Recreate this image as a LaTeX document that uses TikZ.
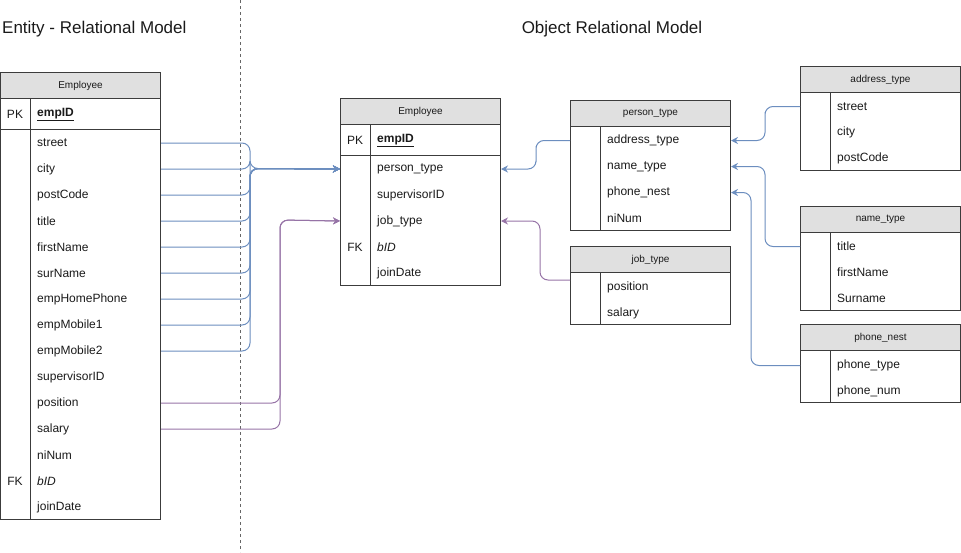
\documentclass[tikz,border=0pt]{standalone}
\usepackage{fontspec}
\setmainfont{Liberation Sans}
\usetikzlibrary{arrows.meta}
\usetikzlibrary{calc}
\usetikzlibrary{positioning}
\definecolor{linegray}{HTML}{3C3C3C}
\definecolor{headgray}{HTML}{E0E0E0}
\definecolor{linkblue}{HTML}{6C8EBF}
\definecolor{linkpurple}{HTML}{9673A6}
\definecolor{textdark}{HTML}{1A1A1A}
\tikzset{tblbox/.style = {draw = linegray, line width = 1pt, anchor = north west, inner sep = 0, minimum width = 160pt}}
\tikzset{tblhead/.style = {tblbox, fill = headgray, minimum height = 26pt, text = textdark, font = \fontsize{10}{12}\selectfont}}
\tikzset{fld/.style = {anchor = west, inner sep = 0, yshift = -1pt, text = textdark, font = \fontsize{12}{14}\selectfont}}
\tikzset{keyfld/.style = {fld, anchor = center}}
\tikzset{bluelink/.style = {draw = linkblue, line width = 1pt, rounded corners = 8pt, -{Stealth[length = 7pt, width = 7pt]}}}
\tikzset{purplelink/.style = {bluelink, draw = linkpurple}}

\begin{document}
\begin{tikzpicture}[x = 1pt, y = -1pt]
    \useasboundingbox (0, 0) rectangle (961, 552);
    % titles and divider
    \node [fld, font = \fontsize{17}{19}\selectfont] (ertitle) at (2, 28) {Entity - Relational Model};
    \node [keyfld, font = \fontsize{17}{19}\selectfont] (ortitle) at (612, 28) {Object Relational Model};
    \draw [dashed, draw = black!60, line width = 0.8pt] (240, 0) -- (240, 552);

    % entity-relational Employee
    \node [tblhead] (emp1-head) at (0, 72) {Employee};
    \node [tblbox, minimum height = 31pt] (emp1-pk) at (0, 98) {};
    \node [tblbox, minimum height = 390pt] (emp1) at (0, 129) {};
    \draw [draw = linegray, line width = 1pt] (30, 98) -- (30, 519);
    \node [keyfld] (emp1-pklbl) at (15, 113.5) {PK};
    \node [fld, font = \fontsize{12}{14}\selectfont\bfseries] (emp1-empID) at (37, 113.5) {\underline{empID}};
    \foreach \f/\t [count = \i from 0] in {street/street, city/city, postCode/postCode, title/title,
        firstName/firstName, surName/surName, empHomePhone/empHomePhone, empMobile1/empMobile1,
        empMobile2/empMobile2, supervisorID/supervisorID, position/position, salary/salary,
        niNum/niNum, bID/\textit{bID}, joinDate/joinDate}
      \node [fld] (emp1-\f) at (37, {142 + 26*\i}) {\t};
    \node [keyfld] (emp1-fklbl) at (15, 480) {FK};

    % object-relational Employee
    \node [tblhead] (emp2-head) at (340, 98) {Employee};
    \node [tblbox, minimum height = 31pt] (emp2-pk) at (340, 124) {};
    \node [tblbox, minimum height = 130pt] (emp2) at (340, 155) {};
    \draw [draw = linegray, line width = 1pt] (370, 124) -- (370, 285);
    \node [keyfld] (emp2-pklbl) at (355, 139.5) {PK};
    \node [fld, font = \fontsize{12}{14}\selectfont\bfseries] (emp2-empID) at (377, 139.5) {\underline{empID}};
    \foreach \f/\t [count = \i from 0] in {person_type/person\_type, supervisorID/supervisorID,
        job_type/job\_type, bID/\textit{bID}, joinDate/joinDate}
      \node [fld] (emp2-\f) at (377, {168 + 26*\i}) {\t};
    \node [keyfld] (emp2-fklbl) at (355, 246) {FK};

    % person_type
    \node [tblhead] (pers-head) at (570, 100) {person\_type};
    \node [tblbox, minimum height = 104pt] (pers) at (570, 126) {};
    \draw [draw = linegray, line width = 1pt] (600, 126) -- (600, 230);
    \foreach \f/\t [count = \i from 0] in {address_type/address\_type, name_type/name\_type,
        phone_nest/phone\_nest, niNum/niNum}
      \node [fld] (pers-\f) at (607, {139.5 + 26*\i}) {\t};

    % job_type
    \node [tblhead] (job-head) at (570, 246) {job\_type};
    \node [tblbox, minimum height = 52pt] (job) at (570, 272) {};
    \draw [draw = linegray, line width = 1pt] (600, 272) -- (600, 324);
    \node [fld] (job-position) at (607, 286) {position};
    \node [fld] (job-salary) at (607, 312) {salary};

    % address_type
    \node [tblhead] (addr-head) at (800, 66) {address\_type};
    \node [tblbox, minimum height = 78pt] (addr) at (800, 92) {};
    \draw [draw = linegray, line width = 1pt] (830, 92) -- (830, 170);
    \foreach \f [count = \i from 0] in {street, city, postCode}
      \node [fld] (addr-\f) at (837, {105.5 + 26*\i}) {\f};

    % name_type
    \node [tblhead] (name-head) at (800, 206) {name\_type};
    \node [tblbox, minimum height = 78pt] (name) at (800, 232) {};
    \draw [draw = linegray, line width = 1pt] (830, 232) -- (830, 310);
    \foreach \f [count = \i from 0] in {title, firstName, Surname}
      \node [fld] (name-\f) at (837, {245.5 + 26*\i}) {\f};

    % phone_nest
    \node [tblhead] (phone-head) at (800, 324) {phone\_nest};
    \node [tblbox, minimum height = 52pt] (phone) at (800, 350) {};
    \draw [draw = linegray, line width = 1pt] (830, 350) -- (830, 402);
    \node [fld] (phone-phone_type) at (837, 364.5) {phone\_type};
    \node [fld] (phone-phone_num) at (837, 390.5) {phone\_num};

    % links, left to middle
    \coordinate (bus1) at (250, 168.5);
    \coordinate (bus2) at (280, 220);
    \foreach \f in {street, city, postCode, title, firstName, surName, empHomePhone, empMobile1, empMobile2}
      \draw [bluelink] (emp1.east |- emp1-\f) -| (bus1) -- (emp2.west |- emp2-person_type);
    \foreach \f in {position, salary}
      \draw [purplelink] (emp1.east |- emp1-\f) -| (bus2) -- (emp2.west |- emp2-job_type);

    % links into the object model
    \draw [bluelink] (pers.west |- pers-address_type) -| (536, 154) |- (emp2.east |- emp2-person_type);
    \draw [purplelink] ($(job.north west) + (0, 8)$) -| (540, 250) |- (emp2.east |- emp2-job_type);
    \draw [bluelink] (addr.west |- addr-street) -| (765, 120) |- (pers.east |- pers-address_type);
    \draw [bluelink] (name.west |- name-title) -| (765, 200) |- (pers.east |- pers-name_type);
    \draw [bluelink] (phone.west |- phone-phone_type) -| (751, 280) |- (pers.east |- pers-phone_nest);
\end{tikzpicture}
\end{document}
